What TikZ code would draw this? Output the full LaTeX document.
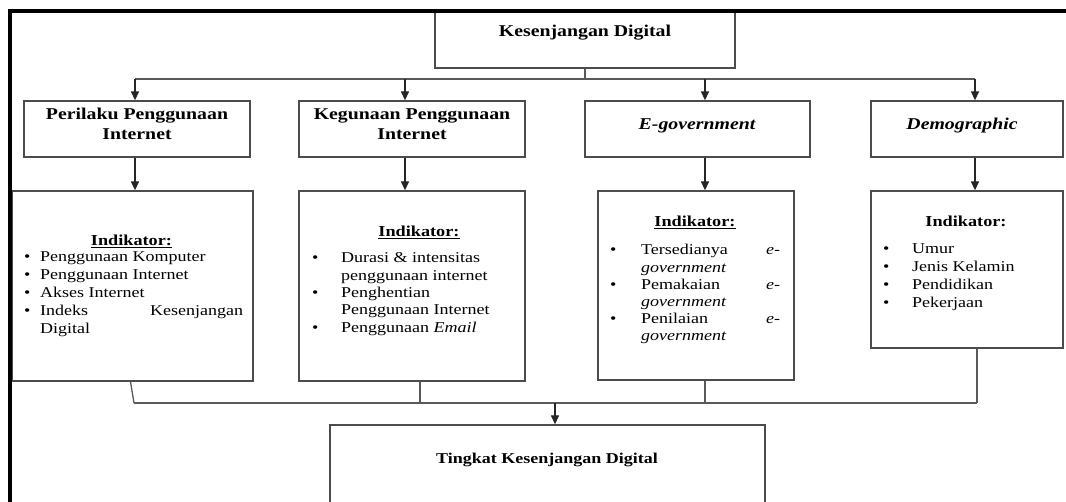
\documentclass[tikz,border=0pt]{standalone}
\usepackage{fontspec}
\setmainfont{Liberation Serif}[FakeStretch=1.2]
\usepackage{array}
\usetikzlibrary{arrows.meta}
\begin{document}
\begin{tikzpicture}[x=1pt,y=-1pt,
  box/.style={draw=black!70,line width=1.3pt,rectangle,inner sep=0pt},
  conn/.style={draw=black!65,line width=1.3pt},
  arr/.style={draw=black!85,line width=1.3pt,-{Triangle[length=9pt,width=8pt]}},
  title/.style={font=\fontsize{16.5}{20}\selectfont\bfseries,align=center,inner sep=0pt},
  indik/.style={font=\fontsize{15.2}{18}\selectfont\bfseries,inner sep=0pt},
  listtext/.style={inner sep=0pt,anchor=base west}
]
\useasboundingbox (0,0) rectangle (1066,502);
\clip (0,0) rectangle (1066,502);

% boxes
\node[box,minimum width=300pt,minimum height=57pt] (top) at (585,39.5) {};
\node[box,minimum width=226pt,minimum height=56pt] (l2a) at (137,129) {};
\node[box,minimum width=226pt,minimum height=56pt] (l2b) at (412,129) {};
\node[box,minimum width=225pt,minimum height=56pt] (l2c) at (697.5,129) {};
\node[box,minimum width=192pt,minimum height=56pt] (l2d) at (967,129) {};
\node[box,minimum width=241pt,minimum height=190pt] (l3a) at (132.5,286) {};
\node[box,minimum width=226pt,minimum height=190pt] (l3b) at (412,286) {};
\node[box,minimum width=196pt,minimum height=189pt] (l3c) at (696,285.5) {};
\node[box,minimum width=192pt,minimum height=157pt] (l3d) at (967,269.5) {};
\node[box,minimum width=435pt,minimum height=135pt] (bot) at (547.5,492.5) {};

% titles
\node[title] (ttop) at (585,33) {Kesenjangan Digital};
\node[title] (t2a) at (137,124) {Perilaku Penggunaan\\Internet};
\node[title] (t2b) at (412,124) {Kegunaan Penggunaan\\Internet};
\node[title] (t2c) at (697,126) {\itshape E-government};
\node[title] (t2d) at (962,126) {\itshape Demographic};
\node[title,font=\fontsize{15}{18}\selectfont\bfseries] (tbot) at (547,460) {Tingkat Kesenjangan Digital};

% indikator headings
\node[indik,anchor=base] (i1) at (131.5,246) {\underline{Indikator:}};
\node[indik,anchor=base] (i2) at (419,237) {\underline{Indikator:}};
\node[indik,anchor=base] (i3) at (695,227) {\underline{Indikator:}};
\node[indik,anchor=base] (i4) at (966,227) {Indikator:};

% lists
\node[listtext,font=\fontsize{15}{18}\selectfont] (list1) at (24,262) {%
\begin{tabular}[t]{@{}p{16pt}@{}p{203pt}@{}}
\textbullet & Penggunaan Komputer\\
\textbullet & Penggunaan Internet\\
\textbullet & Akses Internet\\
\textbullet & Indeks\hfill Kesenjangan\newline Digital
\end{tabular}};
\node[listtext,font=\fontsize{15}{17.3}\selectfont] (list2) at (312,263) {%
\begin{tabular}[t]{@{}p{29pt}@{}p{175pt}@{}}
\textbullet & Durasi \& intensitas\newline penggunaan internet\\
\textbullet & Penghentian\newline Penggunaan Internet\\
\textbullet & Penggunaan \textit{Email}
\end{tabular}};
\node[listtext,font=\fontsize{15}{17.2}\selectfont] (list3) at (610,255) {%
\begin{tabular}[t]{@{}p{31pt}@{}p{139pt}@{}}
\textbullet & Tersedianya\hfill\textit{e-}\newline\textit{government}\\
\textbullet & Pemakaian\hfill\textit{e-}\newline\textit{government}\\
\textbullet & Penilaian\hfill\textit{e-}\newline\textit{government}
\end{tabular}};
\node[listtext,font=\fontsize{15}{18}\selectfont] (list4) at (883,254) {%
\begin{tabular}[t]{@{}p{29pt}@{}p{145pt}@{}}
\textbullet & Umur\\
\textbullet & Jenis Kelamin\\
\textbullet & Pendidikan\\
\textbullet & Pekerjaan
\end{tabular}};

% top bus
\coordinate (bus1) at (135,79);
\coordinate (bus2) at (405,79);
\coordinate (bus3) at (705,79);
\coordinate (bus4) at (975,79);
\draw[conn] (top.south) -- (top.south |- bus1);
\draw[conn] (bus1) -- (bus4);
\draw[arr] (bus1) -- (bus1 |- l2a.north);
\draw[arr] (bus2) -- (bus2 |- l2b.north);
\draw[arr] (bus3) -- (bus3 |- l2c.north);
\draw[arr] (bus4) -- (bus4 |- l2d.north);
\draw[arr] (bus1 |- l2a.south) -- (bus1 |- l3a.north);
\draw[arr] (bus2 |- l2b.south) -- (bus2 |- l3b.north);
\draw[arr] (bus3 |- l2c.south) -- (bus3 |- l3c.north);
\draw[arr] (bus4 |- l2d.south) -- (bus4 |- l3d.north);

% bottom bus
\coordinate (b1) at (134,403);
\coordinate (b2) at (420,403);
\coordinate (b3) at (705,403);
\coordinate (b4) at (977,403);
\coordinate (bm) at (555,403);
\draw[conn] ([xshift=-2pt]l3a.south) -- (b1);
\draw[conn] (b2 |- l3b.south) -- (b2);
\draw[conn] (b3 |- l3c.south) -- (b3);
\draw[conn] (b4 |- l3d.south) -- (b4);
\draw[conn] (b1) -- (b4);
\draw[arr] (bm) -- (bm |- bot.north);

% frame
\draw[line width=3.6pt,black] (10,510) -- (10,11) -- (1070,11);
\end{tikzpicture}
\end{document}
